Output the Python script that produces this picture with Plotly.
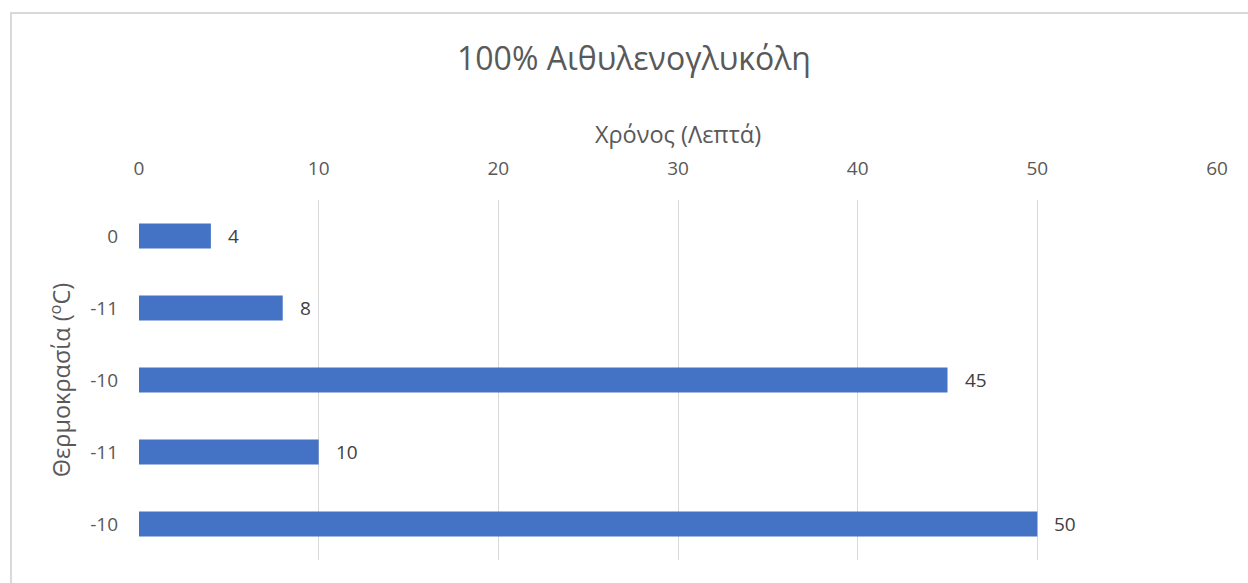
import plotly.graph_objects as go

# Temperature labels (top to bottom) and freezing time in minutes
temperatures = ["0", "-11", "-10", "-11", "-10"]
minutes = [4, 8, 45, 10, 50]
x_ticks = [0, 10, 20, 30, 40, 50, 60]

positions = list(range(len(temperatures)))

FONT = "Open Sans, sans-serif"
GREY_TEXT = "#595959"

fig = go.Figure(
    go.Bar(
        x=minutes,
        y=positions,
        orientation="h",
        width=0.35,
        marker=dict(color="#4472C4", line=dict(width=0)),
        hoverinfo="x+y",
    )
)

# value labels placed just past the end of each bar
for pos, val in zip(positions, minutes):
    fig.add_annotation(
        x=val,
        y=pos,
        text=str(val),
        showarrow=False,
        xanchor="left",
        yanchor="middle",
        xshift=15,
        font=dict(family=FONT, size=19, color="#404040"),
    )

fig.update_layout(
    width=1248,
    height=583,
    margin=dict(l=139, r=31, t=200, b=23),
    paper_bgcolor="white",
    plot_bgcolor="white",
    showlegend=False,
    title=dict(
        text="100% Αιθυλενογλυκόλη",
        x=0.508,
        xanchor="center",
        y=0.9,
        yanchor="middle",
        font=dict(family=FONT, size=32, color=GREY_TEXT),
    ),
    xaxis=dict(
        side="top",
        range=[0, 60],
        tickvals=x_ticks,
        ticktext=[str(t) for t in x_ticks],
        showgrid=True,
        gridcolor="#d9d9d9",
        gridwidth=1,
        zeroline=False,
        showline=False,
        ticks="",
        ticklabelstandoff=20,
        tickfont=dict(family=FONT, size=19, color=GREY_TEXT),
        title=dict(
            text="Χρόνος (Λεπτά)",
            font=dict(family=FONT, size=23.5, color=GREY_TEXT),
            standoff=4,
        ),
    ),
    yaxis=dict(
        range=[4.5, -0.5],
        tickvals=positions,
        ticktext=temperatures,
        showgrid=False,
        zeroline=False,
        showline=False,
        ticks="",
        ticklabelstandoff=20,
        tickfont=dict(family=FONT, size=19, color=GREY_TEXT),
        title=dict(
            text="Θερμοκρασία (<sup>o</sup>C)",
            font=dict(family=FONT, size=23.5, color=GREY_TEXT),
            standoff=12,
        ),
    ),
    shapes=[
        dict(
            type="rect",
            xref="paper",
            yref="paper",
            x0=(11 - 139) / 1078,
            x1=1.3,
            y0=-0.3,
            y1=(560 - 13) / 360,
            line=dict(color="#d9d9d9", width=2),
            fillcolor="rgba(0,0,0,0)",
            layer="below",
        )
    ],
)

fig.write_html("out.html")
